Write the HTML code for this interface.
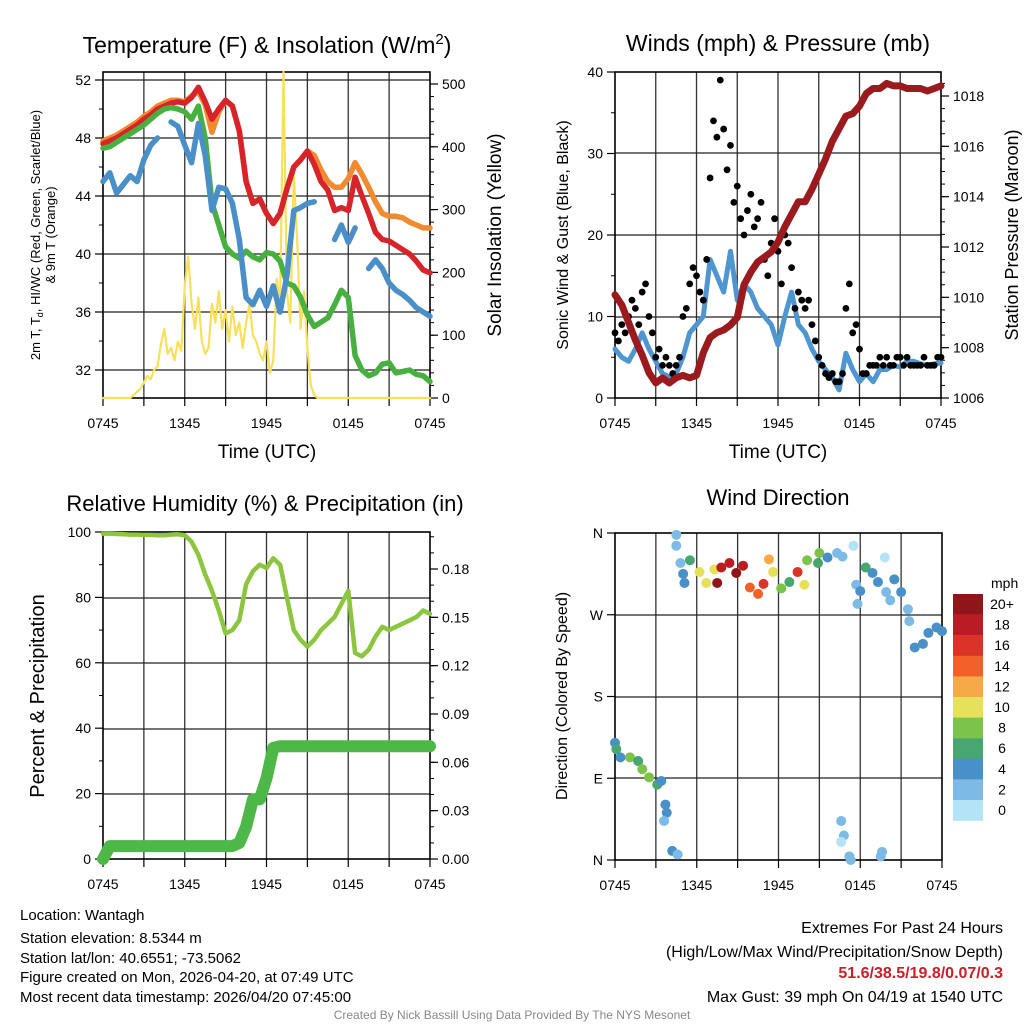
<!DOCTYPE html>
<html><head><meta charset="utf-8">
<style>
html,body{margin:0;padding:0;background:#fff;}
svg{display:block;font-family:"Liberation Sans",Arial,sans-serif;}
</style></head>
<body>
<svg id="chart" width="1024" height="1024" viewBox="0 0 1024 1024" xmlns="http://www.w3.org/2000/svg">
<rect x="0" y="0" width="1024" height="1024" fill="#fff"/>
<g id="p1"></g>
<g id="p2"></g>
<g id="p3"></g>
<g id="p4"></g>
<g id="txt">
<text x="20" y="920" font-size="15">Location: Wantagh</text>
<text x="20" y="943" font-size="15">Station elevation: 8.5344 m</text>
<text x="20" y="963" font-size="15">Station lat/lon: 40.6551; -73.5062</text>
<text x="20" y="982" font-size="15">Figure created on Mon, 2026-04-20, at 07:49 UTC</text>
<text x="20" y="1002" font-size="15">Most recent data timestamp: 2026/04/20 07:45:00</text>
<text x="1003" y="933" font-size="16" text-anchor="end">Extremes For Past 24 Hours</text>
<text x="1003" y="957" font-size="16" text-anchor="end">(High/Low/Max Wind/Precipitation/Snow Depth)</text>
<text x="1003" y="978" font-size="16" font-weight="bold" fill="#c8202a" text-anchor="end">51.6/38.5/19.8/0.07/0.3</text>
<text x="1003" y="1002" font-size="16" text-anchor="end">Max Gust: 39 mph On 04/19 at 1540 UTC</text>
<text x="512" y="1019" font-size="12" fill="#888" text-anchor="middle">Created By Nick Bassill Using Data Provided By The NYS Mesonet</text>
</g>
</svg>
<script>
// ---------- data (half-hourly, 0745 -> 0745, 49 points) ----------
const xTickLabels = ["0745","1345","1945","0145","0745"];
const tempRed = [47.6,47.8,48.0,48.3,48.6,48.9,49.3,49.6,50.0,50.2,50.4,50.5,50.4,50.8,51.5,50.5,49.3,50.0,50.6,50.2,48.5,45.0,43.5,43.8,42.8,42.1,42.8,44.5,46.0,46.5,47.1,46.2,45.0,44.4,43.0,43.2,43.0,45.3,44.0,42.8,41.5,41.0,40.9,40.6,40.3,40.0,39.5,38.9,38.7];
const temp9m = [47.8,48.0,48.2,48.5,48.8,49.1,49.5,49.8,50.2,50.4,50.6,50.6,50.5,50.9,51.2,50.3,48.4,49.8,50.6,50.2,48.5,45.0,43.5,43.8,42.8,42.1,42.8,44.5,46.0,46.5,47.1,46.8,45.8,45.0,44.6,44.6,45.2,46.3,45.5,44.6,43.6,42.8,42.6,42.6,42.5,42.2,42.0,41.8,41.8];
const dewGreen = [47.3,47.4,47.7,48.0,48.3,48.6,48.9,49.3,49.7,50.0,50.1,50.0,49.8,49.3,50.2,48.0,43.5,42.0,40.5,40.0,39.7,40.2,39.8,39.6,40.1,40.0,39.5,38.0,37.8,37.0,35.8,35.0,35.3,35.6,36.5,37.5,37.0,33.0,32.0,31.6,31.8,32.4,32.5,31.8,31.9,32.0,31.7,31.6,31.2];
const windChill = [45.0,45.6,44.2,44.8,45.4,45.0,46.5,47.5,48.0,null,49.1,48.8,47.5,46.3,49.0,46.8,43.0,44.6,44.5,43.5,41.0,37.0,36.5,37.5,36.4,37.8,36.0,38.5,43.0,43.2,43.5,43.6,null,null,41.0,42.0,40.8,41.8,null,39.0,39.6,39.0,38.0,37.5,37.2,36.8,36.3,36.0,35.7];
// solar insolation, 15-minute (97 points)
const solar = [0,0,0,0,0,0,0,0,0,5,10,15,25,35,30,45,50,85,110,70,80,60,90,75,180,225,150,110,160,90,70,80,150,120,170,110,140,90,145,100,120,80,120,150,100,90,70,60,90,40,60,190,150,530,170,120,360,250,110,170,80,20,5,0,0,0,0,0,0,0,0,0,0,0,0,0,0,0,0,0,0,0,0,0,0,0,0,0,0,0,0,0,0,0,0,0,0];
const windSpeed = [6,5,4.5,6,8,6,4.5,3,2.6,3,5,8,9,10,17,15,13,18,12,14,13,11,10,9,6.5,10,13,9,8,6,4.5,3.5,2.5,1,5.5,3.5,2,3,2,3.5,3.5,4,3.8,4.5,4.5,4.2,4,4.2,4.3];
const pressure = [1010.1,1009.7,1009.0,1008.3,1007.7,1007.0,1006.6,1006.8,1006.6,1006.8,1006.9,1006.8,1006.9,1007.8,1008.4,1008.6,1008.7,1008.9,1009.2,1010.5,1011.0,1011.4,1011.6,1011.8,1012.2,1012.8,1013.3,1013.8,1013.8,1014.3,1014.9,1015.5,1016.2,1016.7,1017.2,1017.3,1017.6,1018.1,1018.3,1018.3,1018.5,1018.4,1018.4,1018.3,1018.3,1018.3,1018.2,1018.3,1018.4];
// gusts, 15-minute (97 points)
const gusts = [8,7,9,8,10,12,11,9,13,14,10,8,5,6,4,5,4,3,4,5,10,11,14,16,15,13,12,17,27,34,32,39,33,28,31,24,26,22,20,23,25,21,22,24,17,15,19,22,18,14,20,19,16,11,13,12,11,12,9,7,5,4,3,2.5,3,2,2,3,11,14,8,9,6,3,3,4,4,4,5,4,5,4,4,5,5,4,5,4,4,4,4,5,4,4,4,5,5];
const rh = [99.5,99.5,99.4,99.3,99.2,99.2,99.1,99.1,99.0,99.0,99.2,99.3,99,97,93,87,82,76,69,70,73,84,88,90,89,92,90,80,70,67,65,67,70,72,74,78,82,63,62,64,68,71,70,71,72,73,74,76,75];
const precip = [0,0.008,0.008,0.008,0.008,0.008,0.008,0.008,0.008,0.008,0.008,0.008,0.008,0.008,0.008,0.008,0.008,0.008,0.008,0.008,0.01,0.02,0.037,0.037,0.05,0.069,0.07,0.07,0.07,0.07,0.07,0.07,0.07,0.07,0.07,0.07,0.07,0.07,0.07,0.07,0.07,0.07,0.07,0.07,0.07,0.07,0.07,0.07,0.07];
// wind direction scatter
const dirHours = [0,0.1,0.4,1.1,1.7,2.0,2.5,3.1,3.4,3.7,3.8,3.6,4.2,4.6, 4.5,4.5,4.8,5.0,5.1,5.5,6.2,6.7,7.3,7.5,7.8,8.4,8.9,9.4,9.9,10.5,10.9,11.3,11.6,12.2,12.8,13.4,13.9,14.1,14.9,15.0,15.6,16.3,16.7,17.5,17.7,18.0,17.8,18.4,18.9,19.3,19.8,19.9,20.2,20.5,21.0,21.5,21.6,22.0,22.6,23.0,23.6,24.0, 16.6,16.8,16.6,17.2,17.3,19.6,19.5];
const dirDeg = [129,122,113,113,109,100,91,83,87,61,52,43,10,6, 358,346,327,315,305,330,317,305,320,305,322,327,316,324,300,293,304,331,317,299,306,317,303,330,327,338,333,338,334,346,303,296,282,322,316,306,333,295,286,309,295,276,263,234,238,250,256,252, 43,27,20,4,0,9,4];
const dirSpeed = [4,6,4,8,6,8,8,6,4,4,4,2,4,2, 2,2,2,4,4,6,10,10,10,20,18,18,20,18,14,14,16,12,10,8,6,16,10,8,6,8,4,2,2,0,2,4,2,6,4,4,0,2,2,4,4,2,2,4,4,4,4,4, 2,2,0,2,2,2,2];
const speedLabels = ["20+","18","16","14","12","10","8","6","4","2","0"];
const speedColors = ["#b4e2f7","#7dbbe6","#4a90c8","#48a670","#7bc34b","#e6e05a","#f6a947","#f0622a","#db3327","#bb1c23","#8f1519"];

// ---------- helpers ----------
const NS = "http://www.w3.org/2000/svg";
function mk(parent, tag, attrs, text){
  const e = document.createElementNS(NS, tag);
  for (const k in attrs) e.setAttribute(k, attrs[k]);
  if (text !== undefined) e.textContent = text;
  parent.appendChild(e); return e;
}
function lin(d0,d1,r0,r1){ return v => r0 + (v-d0)/(d1-d0)*(r1-r0); }

function frame(g, X0, X1, Y0, Y1, hGrid){
  const xs = lin(0,24,X0,X1);
  for (let h=3; h<24; h+=3){
    const l = mk(g,'line',{x1:xs(h),x2:xs(h),y1:Y0,y2:Y1,stroke:'#333','stroke-width':1.3});
    
    
  }
  hGrid.forEach(y=>{
    const l = mk(g,'line',{x1:X0,x2:X1,y1:y,y2:y,stroke:'#222','stroke-width':1.3});
    
    
  });
  const b = mk(g,'rect',{x:X0,y:Y0,width:X1-X0,height:Y1-Y0,fill:'none',stroke:'#000','stroke-width':1.6});
  
  
  for (let h=0; h<=24; h+=3){
    const t = mk(g,'line',{x1:xs(h),x2:xs(h),y1:Y1,y2:Y1+8,stroke:'#000','stroke-width':1.2});
    
    
  }
  xTickLabels.forEach((lab,i)=>{
    const t = mk(g,'text',{x:xs(i*6),y:Y1+30,'font-size':14,'text-anchor':'middle'},lab);
    
    
  });
  return xs;
}
function yTicks(g, ys, vals, labels, x, side, minor){
  vals.forEach((v,i)=>{
    const dx = side==='left' ? -8 : 8;
    const t = mk(g,'line',{x1:x,x2:x+dx,y1:ys(v),y2:ys(v),stroke:'#000','stroke-width':1.2});
    
    
    const lb = mk(g,'text',{x:x+(side==='left'?-12:12),y:ys(v)+5,'font-size':14,'text-anchor':side==='left'?'end':'start'},labels[i]);
    
    
  });
  (minor||[]).forEach(v=>{
    const dx = side==='left' ? -4 : 4;
    const t = mk(g,'line',{x1:x,x2:x+dx,y1:ys(v),y2:ys(v),stroke:'#000','stroke-width':1});
    
    
  });
}
function pathFrom(vals, xs, ys, step){
  let d='', pen=false;
  vals.forEach((v,i)=>{
    if (v===null){ pen=false; return; }
    d += (pen?'L':'M') + xs(i*step).toFixed(1) + ' ' + ys(v).toFixed(1) + ' ';
    pen=true;
  });
  return d;
}
function series(g, vals, xs, ys, step, color, w, name){
  const p = mk(g,'path',{d:pathFrom(vals,xs,ys,step),fill:'none',stroke:color,'stroke-width':w,'stroke-linejoin':'round','stroke-linecap':'round'});
  
  
  return p;
}
function title(g, x, y, txt, size){
  const t = mk(g,'text',{x:x,y:y,'font-size':size,'text-anchor':'middle'},txt);
  
  
  return t;
}
function vlabel(g, x, y, txt, size, name){
  const t = mk(g,'text',{x:x,y:y,'font-size':size,'text-anchor':'middle',transform:`rotate(-90 ${x} ${y})`},txt);
  
  
  return t;
}
function range(a,b,s){ const r=[]; for(let v=a; v<=b+1e-9; v+=s) r.push(+v.toFixed(4)); return r; }

// ---------- Panel 1: temperature ----------
(function(){
  const g = document.getElementById('p1');
  const X0=103,X1=430,Y0=72,Y1=398;
  const ys = lin(32,52,370,80);
  const ys2 = lin(0,500,398,84);
  const xs = frame(g,X0,X1,Y0,Y1,[80,138,196,254,312,370]);
  yTicks(g, ys, [32,36,40,44,48,52], ["32","36","40","44","48","52"], X0, 'left', [34,38,42,46,50]);
  yTicks(g, ys2, [0,100,200,300,400,500], ["0","100","200","300","400","500"], X1, 'right', range(20,500,20));
  series(g, solar, xs, v=>Math.max(Y0,ys2(v)), 0.25, '#f8e05a', 2.2, 'solar-insolation-line');
  series(g, temp9m, xs, ys, 0.5, '#f28a30', 5.5, 'temp-9m-line');
  series(g, tempRed, xs, ys, 0.5, '#d7232a', 5.5, 'temp-2m-line');
  series(g, dewGreen, xs, ys, 0.5, '#48b040', 5.5, 'dewpoint-line');
  series(g, windChill, xs, ys, 0.5, '#4a8fc8', 5.5, 'heat-index-windchill-line');
  const tt = title(g, 267, 53, '', 23);
  tt.innerHTML = 'Temperature (F) &amp; Insolation (W/m<tspan dy="-9" font-size="15">2</tspan><tspan dy="9">)</tspan>';
  const t2 = mk(g,'text',{x:267,y:458,'font-size':19,'text-anchor':'middle'},'Time (UTC)');
  
  
  const l1 = mk(g,'text',{x:40,y:235,'font-size':13,'text-anchor':'middle',transform:'rotate(-90 40 235)'});
  l1.innerHTML = '2m T, T<tspan dy="3" font-size="9">d</tspan><tspan dy="-3">, HI/WC (Red, Green, Scarlet/Blue)</tspan>';
  
  
  vlabel(g, 55, 235, '& 9m T (Orange)', 13, 'y-axis-title-line2');
  vlabel(g, 501, 235, 'Solar Insolation (Yellow)', 19, 'y2-axis-title');
})();

// ---------- Panel 2: winds ----------
(function(){
  const g = document.getElementById('p2');
  const X0=615,X1=941,Y0=72,Y1=398;
  const ys = lin(0,40,398,72);
  const ys2 = lin(1006,1018,398,96);
  const xs = frame(g,X0,X1,Y0,Y1,[153,235,317]);
  yTicks(g, ys, [0,10,20,30,40], ["0","10","20","30","40"], X0, 'left', [5,15,25,35]);
  yTicks(g, ys2, [1006,1008,1010,1012,1014,1016,1018], ["1006","1008","1010","1012","1014","1016","1018"], X1, 'right', range(1006.5,1018.5,0.5));
  series(g, windSpeed, xs, ys, 0.5, '#4f95cf', 5, 'wind-speed-line');
  gusts.forEach((v,i)=>{
    const c = mk(g,'circle',{cx:xs(i*0.25),cy:ys(v),r:3.4,fill:'#000'});
    
    
  });
  series(g, pressure, xs, ys2, 0.5, '#9b1a1e', 7, 'pressure-line');
  title(g, 778, 51, 'Winds (mph) & Pressure (mb)', 23);
  const t2 = mk(g,'text',{x:778,y:458,'font-size':19,'text-anchor':'middle'},'Time (UTC)');
  
  
  vlabel(g, 568, 235, 'Sonic Wind & Gust (Blue, Black)', 16, 'y-axis-title');
  vlabel(g, 1018, 235, 'Station Pressure (Maroon)', 18, 'y2-axis-title');
})();

// ---------- Panel 3: RH & precip ----------
(function(){
  const g = document.getElementById('p3');
  const X0=103,X1=430,Y0=532,Y1=859;
  const ys = lin(0,100,859,532);
  const ys2 = lin(0,0.18,859,569);
  const xs = frame(g,X0,X1,Y0,Y1,[598,663,729,794]);
  yTicks(g, ys, [0,20,40,60,80,100], ["0","20","40","60","80","100"], X0, 'left', [10,30,50,70,90]);
  yTicks(g, ys2, [0,0.03,0.06,0.09,0.12,0.15,0.18], ["0.00","0.03","0.06","0.09","0.12","0.15","0.18"], X1, 'right', range(0.01,0.2,0.01));
  series(g, rh, xs, ys, 0.5, '#8cc63f', 4.5, 'relative-humidity-line');
  series(g, precip, xs, ys2, 0.5, '#4db848', 12, 'precipitation-line');
  title(g, 265, 511, 'Relative Humidity (%) & Precipitation (in)', 22);
  vlabel(g, 44, 696, 'Percent & Precipitation', 20, 'y-axis-title');
})();

// ---------- Panel 4: wind direction ----------
(function(){
  const g = document.getElementById('p4');
  const X0=615,X1=942,Y0=533,Y1=860;
  const ys = lin(0,360,860,533);
  const xs = frame(g,X0,X1,Y0,Y1,[615,697,778]);
  yTicks(g, ys, [0,90,180,270,360], ["N","E","S","W","N"], X0, 'left', []);
  dirHours.forEach((h,i)=>{
    const bin = Math.min(10, Math.floor(dirSpeed[i]/2));
    const c = mk(g,'circle',{cx:xs(h),cy:ys(dirDeg[i]),r:5,fill:speedColors[bin]});
    
    
  });
  title(g, 778, 505, 'Wind Direction', 22);
  vlabel(g, 567, 696, 'Direction (Colored By Speed)', 16, 'y-axis-title');
  const cb = mk(g,'g',{});
  
  
  const u = mk(cb,'text',{x:991,y:588,'font-size':14},'mph');
  
  
  speedLabels.forEach((lab,i)=>{
    const y = 594 + i*20.6;
    const r = mk(cb,'rect',{x:953,y:y,width:30,height:20.8,fill:speedColors[10-i]});
    
    
    const t = mk(cb,'text',{x:1002,y:y+15,'font-size':14,'text-anchor':'middle'},lab);
    
    
  });
})();
</script>
</body></html>
